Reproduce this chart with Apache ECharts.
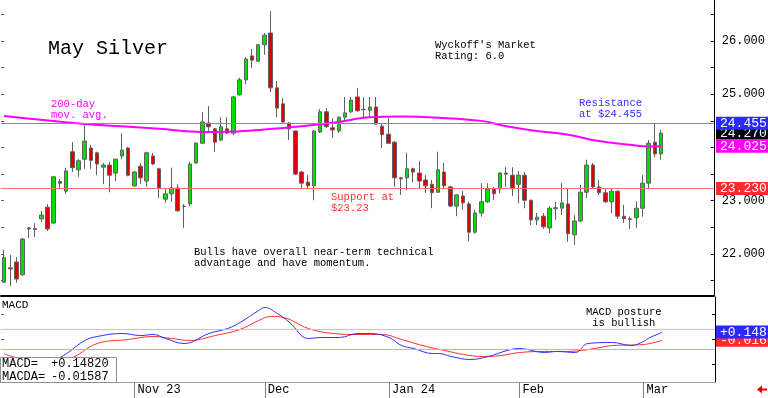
<!DOCTYPE html>
<html>
<head>
<meta charset="utf-8">
<script src="https://cdn.jsdelivr.net/npm/echarts@6/dist/echarts.min.js"></script>
<style>
html, body { margin: 0; padding: 0; background: #fff; }
#chart { width: 768px; height: 398px; }
</style>
</head>
<body>
<div id="chart"></div>
<script>
// slots on the time axis (107 sessions + empty room on the right)
const DAY_SLOTS = 115
const monthStarts = [21, 42, 62, 83, 103]
const monthLabels = ['Nov 23', 'Dec', 'Jan 24', 'Feb', 'Mar']
const priceLabels = [22, 23, 25, 26]
const priceTicks = [21.5, 22, 22.5, 23, 23.5, 24, 24.5, 25, 25.5, 26, 26.5]
const macdTicks = [-0.5, 0, 0.5]

// daily OHLC, May silver, Oct 3 2023 .. Mar 6 2024
const opens = [21.47, 21.74, 21.85, 21.61, 22.49, 22.46, 22.66, 22.88, 22.58, 23.36,
  23.18, 23.92, 23.58, 23.78, 23.99, 23.90, 23.63, 23.67, 23.52, 23.84,
  23.99, 23.28, 23.65, 23.37, 23.84, 23.60, 23.03, 23.13, 23.24, 22.89,
  22.94, 23.71, 24.08, 24.46, 24.35, 24.14, 24.35, 24.27, 24.99, 25.27,
  25.72, 25.62, 25.93, 26.15, 25.12, 24.82, 24.46, 24.31, 23.54, 23.35,
  23.28, 24.29, 24.67, 24.37, 24.31, 24.57, 24.67, 24.95, 24.71, 24.70,
  24.76, 24.40, 24.25, 24.10, 23.43, 23.43, 23.60, 23.52, 23.39, 23.31,
  23.16, 23.54, 23.26, 22.90, 23.09, 22.94, 22.41, 22.77, 22.98, 23.22,
  23.22, 23.52, 23.48, 23.31, 23.48, 23.01, 22.64, 22.71, 22.49, 22.85,
  22.86, 22.94, 22.36, 22.62, 23.16, 23.67, 23.26, 23.15, 22.98, 23.18,
  22.71, 22.65, 22.68, 22.86, 23.33, 24.10, 23.88]
const closes = [21.93, 21.72, 21.53, 22.28, 22.47, 22.48, 22.73, 22.47, 23.45, 23.33,
  23.56, 23.62, 23.75, 24.12, 23.76, 23.69, 23.67, 23.48, 23.78, 23.95,
  23.48, 23.54, 23.43, 23.90, 23.69, 23.24, 23.13, 23.24, 22.81, 22.90,
  23.69, 24.08, 24.48, 24.39, 24.10, 24.39, 24.27, 24.95, 25.27, 25.66,
  25.64, 25.93, 26.11, 25.12, 24.74, 24.48, 24.35, 23.50, 23.33, 23.28,
  24.31, 24.67, 24.39, 24.33, 24.57, 24.65, 24.89, 24.69, 24.72, 24.76,
  24.44, 24.24, 24.08, 23.43, 23.41, 23.60, 23.54, 23.37, 23.28, 23.15,
  23.58, 23.28, 22.90, 23.11, 22.96, 22.41, 22.77, 22.98, 23.22, 23.13,
  23.52, 23.50, 23.24, 23.48, 23.01, 22.64, 22.69, 22.51, 22.86, 22.87,
  22.96, 22.38, 22.62, 23.16, 23.67, 23.26, 23.15, 22.98, 23.18, 22.71,
  22.66, 22.66, 22.86, 23.33, 24.08, 23.88, 24.27]
const lows = [21.46, 21.40, 21.46, 21.59, 22.30, 22.32, 22.60, 22.43, 22.57, 23.22,
  23.13, 23.54, 23.45, 23.60, 23.60, 23.48, 23.31, 23.16, 23.37, 23.78,
  23.46, 23.26, 23.31, 23.26, 23.67, 23.05, 22.96, 22.98, 22.79, 22.49,
  22.90, 23.69, 24.07, 24.31, 23.92, 24.12, 24.25, 24.23, 24.97, 25.19,
  25.49, 25.61, 25.74, 25.04, 24.57, 24.46, 24.14, 23.48, 23.22, 23.24,
  23.01, 24.27, 24.37, 24.18, 24.27, 24.50, 24.65, 24.67, 24.55, 24.55,
  24.43, 23.99, 24.07, 23.26, 23.11, 23.20, 23.35, 23.24, 23.15, 22.86,
  23.15, 23.24, 22.88, 22.71, 22.83, 22.24, 22.38, 22.70, 22.96, 23.01,
  23.14, 23.26, 23.09, 22.95, 22.86, 22.54, 22.54, 22.47, 22.39, 22.64,
  22.73, 22.23, 22.17, 22.60, 23.05, 23.24, 23.11, 22.96, 22.77, 22.66,
  22.58, 22.47, 22.49, 22.70, 23.22, 23.82, 23.77]
const highs = [22.08, 21.98, 21.94, 22.30, 22.51, 22.58, 22.81, 22.94, 23.46, 23.41,
  23.62, 24.10, 23.78, 24.42, 24.05, 23.92, 23.71, 23.73, 23.79, 24.27,
  24.01, 23.56, 23.71, 23.92, 23.90, 23.62, 23.22, 23.62, 23.31, 22.94,
  23.73, 24.10, 24.67, 24.78, 24.37, 24.57, 24.57, 24.97, 25.31, 25.70,
  25.85, 25.94, 26.15, 26.56, 25.25, 24.93, 24.48, 24.32, 23.56, 23.48,
  24.32, 24.72, 24.74, 24.55, 24.58, 24.95, 24.95, 25.12, 24.95, 24.95,
  24.95, 24.46, 24.55, 24.12, 23.45, 23.90, 23.62, 23.75, 23.48, 23.39,
  23.92, 23.71, 23.28, 23.12, 23.18, 22.98, 22.83, 23.33, 23.33, 23.26,
  23.54, 23.63, 23.63, 23.56, 23.54, 23.02, 22.77, 22.77, 22.90, 22.98,
  23.33, 23.24, 22.73, 23.30, 23.77, 23.71, 23.39, 23.22, 23.22, 23.19,
  22.92, 22.70, 22.99, 23.48, 24.14, 24.45, 24.33]

// 200-day moving average, read at these sessions
const maDays = [0, 13, 19, 25, 32, 37, 41, 48, 54, 59, 64, 70, 77, 81, 86, 91, 96, 101, 104, 106]
const maValues = [24.59, 24.44, 24.40, 24.35, 24.29, 24.30, 24.33, 24.40, 24.48, 24.57,
  24.58, 24.56, 24.50, 24.40, 24.31, 24.24, 24.12, 24.05, 24.02, 24.025]

// MACD (blue) and its average (red)
const macdDays = [0, 5, 9, 13, 15, 19, 22, 24, 26, 29, 33, 36, 38, 41, 42, 44, 46, 49, 51, 54,
  57, 59, 62, 64, 66, 69, 70, 72, 75, 78, 81, 83, 87, 89, 92, 94, 98, 101, 103, 104, 105, 106]
const macdValues = [-0.66, -0.52, -0.36, -0.02, 0.06, 0.12, 0.08, 0.10, 0.02, -0.08, 0.12, 0.22,
  0.34, 0.58, 0.64, 0.52, 0.34, 0.02, 0.04, 0.04, 0.12, 0.12, 0.04, -0.12, -0.18, -0.28, -0.28,
  -0.34, -0.40, -0.34, -0.22, -0.18, -0.26, -0.24, -0.26, -0.08, -0.06, -0.12, -0.04, 0.04, 0.09, 0.1482]
const signalDays = [0, 1, 5, 8, 11, 15, 20, 24, 27, 30, 34, 38, 41, 43, 45, 49, 53, 57, 61, 64,
  68, 71, 74, 77, 80, 83, 87, 90, 93, 96, 98, 103, 106]
const signalValues = [-0.28, -0.33, -0.44, -0.42, -0.36, -0.08, 0.0, 0.06, 0.02, -0.02, 0.08,
  0.20, 0.38, 0.46, 0.44, 0.22, 0.12, 0.10, 0.10, 0.0, -0.14, -0.22, -0.30, -0.34, -0.32,
  -0.26, -0.24, -0.24, -0.22, -0.16, -0.12, -0.10, -0.01587]

const resistance = 24.455
const support = 23.23
const lastClose = 24.27
const lastMa = 24.025
const lastMacd = 0.1482
const lastSignal = -0.01587
const macdBands = [0.2, -0.2]

const MONO = "'Liberation Mono', 'DejaVu Sans Mono', monospace"
const days = Array.from({ length: DAY_SLOTS }, (_, i) => String(i))
const isMonthStart = (i) => monthStarts.includes(i)
const signed = (v, d) => (v > 0 ? '+' : '') + v.toFixed(d)

// one plain horizontal line per series
function levelLine (value, color) {
  return {
    silent: true,
    symbol: ['none', 'none'],
    label: { show: false },
    lineStyle: { color, width: 1, type: 'solid', opacity: 1 },
    emphasis: { disabled: true },
    data: [{ yAxis: value }]
  }
}

function note (x, y, text, fill, size, lh) {
  return {
    type: 'text',
    z: 100,
    style: {
      x, y, text, fill,
      font: `${size || 10.5}px ${MONO}`,
      lineHeight: lh || 11,
      align: 'left',
      verticalAlign: 'top'
    }
  }
}

const chart = echarts.init(document.getElementById('chart'))

chart.setOption({
  animation: false,
  backgroundColor: '#fff',
  grid: [
    { left: 1, right: 53, top: 0, height: 296 },
    { left: 1, right: 53, top: 297, height: 85 }
  ],
  xAxis: [
    {
      type: 'category',
      gridIndex: 0,
      data: days,
      axisLine: { show: true, onZero: false, lineStyle: { color: '#000', width: 2 } },
      axisTick: { show: false },
      axisLabel: { show: false },
      splitLine: { show: false }
    },
    {
      type: 'category',
      gridIndex: 1,
      data: days,
      axisLine: { show: true, onZero: false, lineStyle: { color: '#a0a0a0' } },
      axisTick: {
        show: true,
        alignWithLabel: true,
        interval: isMonthStart,
        length: 16,
        lineStyle: { color: '#808080' }
      },
      axisLabel: {
        interval: isMonthStart,
        formatter: (v) => monthLabels[monthStarts.indexOf(Number(v))],
        align: 'left',
        margin: 2,
        padding: [0, 0, 0, 3],
        color: '#000',
        fontFamily: MONO,
        fontSize: 12
      },
      splitLine: { show: false }
    }
  ],
  yAxis: [
    {
      type: 'value',
      gridIndex: 0,
      position: 'right',
      min: 21.211,
      max: 26.77,
      splitLine: { show: false },
      axisLine: { show: true, lineStyle: { color: '#000' } },
      axisTick: { show: true, inside: true, length: 3, customValues: priceTicks, lineStyle: { color: '#000' } },
      axisLabel: {
        customValues: priceLabels,
        formatter: (v) => v.toFixed(3),
        margin: 8,
        color: '#000',
        fontFamily: MONO,
        fontSize: 12
      }
    },
    {
      type: 'value',
      gridIndex: 1,
      position: 'right',
      min: -0.85,
      max: 0.85,
      splitLine: { show: false },
      axisLine: { show: true, lineStyle: { color: '#000' } },
      axisTick: { show: true, inside: true, length: 3, customValues: macdTicks, lineStyle: { color: '#000' } },
      axisLabel: { show: false }
    },
    {
      type: 'value',
      gridIndex: 0,
      position: 'left',
      min: 21.211,
      max: 26.77,
      splitLine: { show: false },
      axisLine: { show: false },
      axisTick: { show: true, inside: true, length: 3, customValues: priceTicks, lineStyle: { color: '#606060' } },
      axisLabel: { show: false }
    },
    {
      type: 'value',
      gridIndex: 1,
      position: 'left',
      min: -0.85,
      max: 0.85,
      splitLine: { show: false },
      axisLine: { show: false },
      axisTick: { show: true, inside: true, length: 3, customValues: macdTicks, lineStyle: { color: '#606060' } },
      axisLabel: { show: false }
    }
  ],
  series: [
    {
      type: 'candlestick',
      xAxisIndex: 0,
      yAxisIndex: 0,
      data: opens.map((o, i) => [o, closes[i], lows[i], highs[i]]),
      barWidth: 4,
      itemStyle: {
        color: '#00e000',
        color0: '#e00000',
        borderColor: '#606060',
        borderColor0: '#606060',
        borderWidth: 1
      },
      markLine: levelLine(resistance, '#7c7cff')
    },
    {
      type: 'line',
      xAxisIndex: 0,
      yAxisIndex: 0,
      data: maDays.map((d, i) => [d, maValues[i]]),
      smooth: 0.4,
      symbol: 'none',
      lineStyle: { color: '#ff00ff', width: 2 },
      markLine: levelLine(support, '#ff6a6a')
    },
    {
      type: 'line',
      xAxisIndex: 1,
      yAxisIndex: 1,
      data: signalDays.map((d, i) => [d, signalValues[i]]),
      smooth: 0.4,
      symbol: 'none',
      lineStyle: { color: '#ff3030', width: 1 },
      markLine: levelLine(macdBands[0], '#ffb0b0')
    },
    {
      type: 'line',
      xAxisIndex: 1,
      yAxisIndex: 1,
      data: macdDays.map((d, i) => [d, macdValues[i]]),
      smooth: 0.4,
      symbol: 'none',
      lineStyle: { color: '#3030ff', width: 1 },
      markLine: levelLine(macdBands[1], '#b0b0ff')
    }
  ],
  graphic: [
    note(48, 39, 'May Silver', '#000', 20, 20),
    note(51, 98.5, '200-day\nmov. avg.', '#ff00ff'),
    note(435, 40, "Wyckoff's Market\nRating: 6.0", '#000'),
    note(579, 97.5, 'Resistance\nat $24.455', '#3030ff'),
    note(331, 191.5, 'Support at\n$23.23', '#ff3030'),
    note(194, 246.5, 'Bulls have overall near-term technical\nadvantage and have momentum.', '#000'),
    note(586, 306.5, 'MACD posture\n is bullish', '#000'),
    note(2, 300, 'MACD', '#000', 11, 11),
    {
      type: 'rect',
      z: 100,
      shape: { x: 0.5, y: 357.5, width: 116, height: 25 },
      style: { fill: '#fff', stroke: '#909090', lineWidth: 1 }
    },
    note(2, 358, 'MACD=\nMACDA=', '#000', 12, 12.5),
    note(51, 358, signed(lastMacd, 5) + '\n' + signed(lastSignal, 5), '#000', 12, 12.5),
    {
      type: 'polygon',
      z: 100,
      shape: { points: [[757, 389.5], [762, 385.5], [762, 388.5], [767, 388.5], [767, 390.5], [762, 390.5], [762, 393.5]] },
      style: { fill: '#e00000' }
    }
  ]
})

// value boxes on the right axis, placed through the axis scales
const tags = [
  { axis: 0, value: support, bg: '#ff2a2a', text: support.toFixed(3) },
  { axis: 0, value: lastMa, bg: '#ff00ff', text: lastMa.toFixed(3) },
  { axis: 0, value: lastClose, bg: '#000', text: lastClose.toFixed(3) },
  { axis: 0, value: resistance, bg: '#2a2aff', text: resistance.toFixed(3) },
  { axis: 1, value: lastSignal, bg: '#ff2a2a', text: signed(lastSignal, 3) },
  { axis: 1, value: lastMacd, bg: '#2a2aff', text: signed(lastMacd, 3) }
]
const tagX = chart.getWidth() - 52
chart.setOption({
  graphic: tags.map((t, i) => ({
    type: 'text',
    id: 'tag' + i,
    z: 110 + i,
    style: {
      x: tagX,
      y: chart.convertToPixel({ yAxisIndex: t.axis }, t.value),
      text: t.text,
      fill: '#fff',
      backgroundColor: t.bg,
      padding: [1, 5, 0, 4],
      font: `13px ${MONO}`,
      lineHeight: 12,
      align: 'left',
      verticalAlign: 'middle'
    }
  }))
})
</script>
</body>
</html>
